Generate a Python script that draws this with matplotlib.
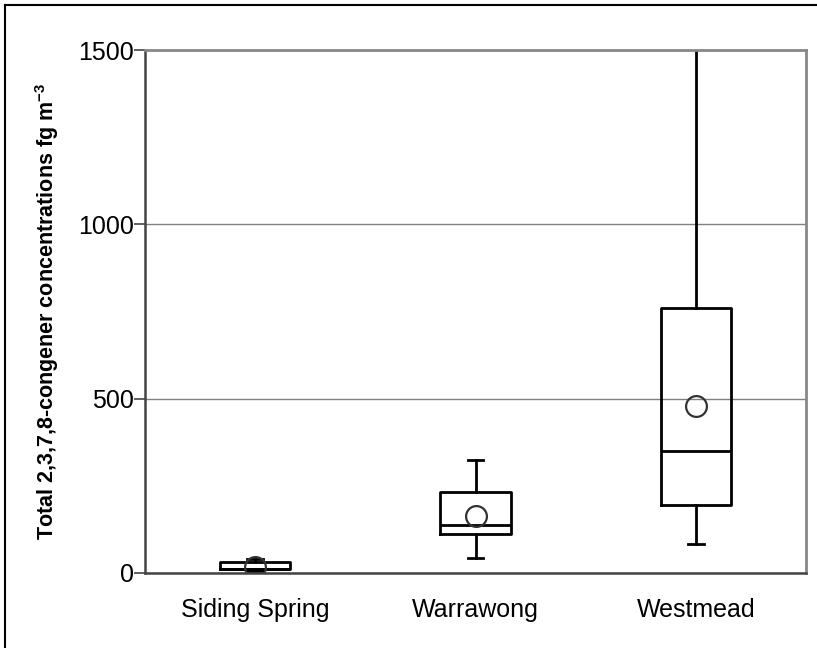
import matplotlib
matplotlib.use("Agg")
import matplotlib.pyplot as plt
from matplotlib.lines import Line2D

sites = ["Siding Spring", "Warrawong", "Westmead"]
whisker_low = [5, 42, 83]
quartile_1 = [11, 111, 194]
medians = [12, 138, 350]
quartile_3 = [32, 231, 761]
whisker_high = [40, 324, 1505]
means = [17, 164, 479]
y_ticks = [0, 500, 1000, 1500]

plt.rcParams["font.family"] = ["Liberation Sans", "DejaVu Sans"]
plt.rcParams["mathtext.fontset"] = "custom"
plt.rcParams["mathtext.rm"] = "Liberation Sans"
plt.rcParams["mathtext.bf"] = "Liberation Sans:bold"

fig = plt.figure(figsize=(8.17, 6.48), dpi=100)
ax = fig.add_axes([145 / 817, 75 / 648, 661 / 817, 523 / 648])

stats = []
for i, name in enumerate(sites):
    stats.append({
        "label": name, "whislo": whisker_low[i], "q1": quartile_1[i], "med": medians[i],
        "q3": quartile_3[i], "whishi": whisker_high[i], "mean": means[i],
    })

line = dict(color="black", linewidth=2.0)
ax.bxp(stats, positions=[1, 2, 3], widths=0.32, capwidths=0.07, showfliers=False,
       showmeans=True, boxprops=line, whiskerprops=line, capprops=line, medianprops=line,
       meanprops=dict(marker="o", markersize=15, markerfacecolor="none",
                      markeredgecolor="#333333", markeredgewidth=1.6))

ax.set_xlim(0.5, 3.5)
ax.set_ylim(0, 1500)
ax.set_yticks(y_ticks)
ax.tick_params(axis="y", direction="out", length=8, width=1.2, color="#444444",
               labelsize=18, pad=0)
ax.tick_params(axis="x", length=0, labelsize=18, pad=18)
ax.yaxis.grid(True, color="#808080", linewidth=1.0)
ax.set_axisbelow(True)
for side in ["top", "right"]:
    ax.spines[side].set_color("#888888")
    ax.spines[side].set_linewidth(2)
for side in ["left", "bottom"]:
    ax.spines[side].set_color("#444444")
    ax.spines[side].set_linewidth(1.8)

ax.set_ylabel("Total 2,3,7,8-congener concentrations fg m$^{\\mathbf{-3}}$", fontsize=15.5,
              fontweight="bold", labelpad=12)

# outer chart frame
fig.add_artist(Line2D([5 / 817, 5 / 817], [0, 1 - 5 / 648], color="black", linewidth=1.5))
fig.add_artist(Line2D([5 / 817, 1], [1 - 5 / 648, 1 - 5 / 648], color="black", linewidth=1.5))

fig.savefig("out.png", dpi=100)
